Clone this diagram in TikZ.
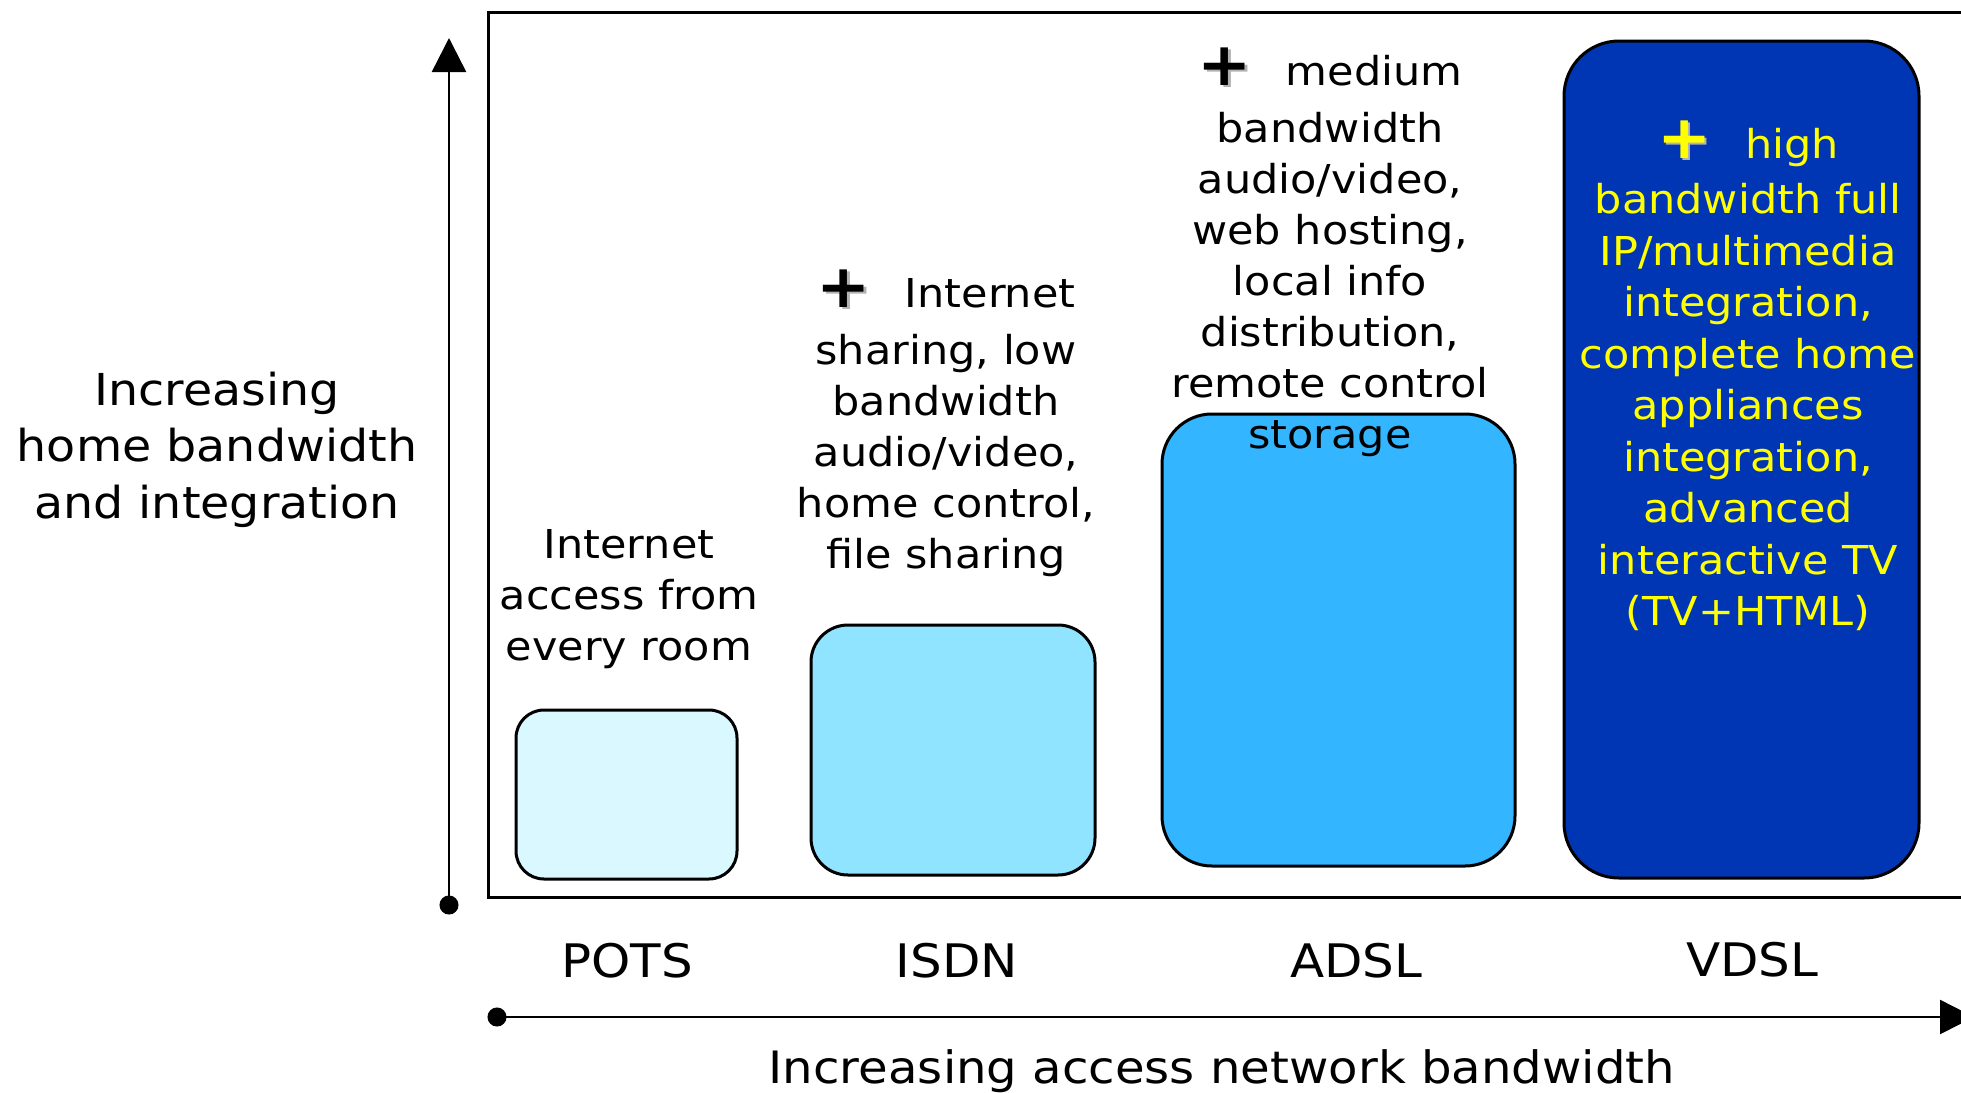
\documentclass[tikz,border=0pt]{standalone}
\usepackage{fontspec}
\setmainfont[FakeStretch=1.08]{DejaVu Sans}
\usetikzlibrary{arrows.meta}
\definecolor{potsfill}{RGB}{217,248,255}
\definecolor{isdnfill}{RGB}{144,228,255}
\definecolor{adslfill}{RGB}{51,181,255}
\definecolor{vdslfill}{RGB}{0,54,179}
\definecolor{txtyellow}{RGB}{255,255,0}
\newcommand{\bigplus}[1]{\rlap{\hspace{2.5pt}\raisebox{-2.5pt}{\textcolor{black!30}{\fontsize{60}{60}\selectfont\bfseries +}}}\textcolor{#1}{\fontsize{60}{60}\selectfont\bfseries +}}
\begin{document}
\begin{tikzpicture}[x=1pt,y=-1pt,
  bar/.style={draw=black, line width=3pt, rounded corners=#1, inner sep=0pt, outer sep=0pt},
  desc/.style={anchor=base, inner sep=0pt, font=\fontsize{39.8}{51}\selectfont},
  cat/.style={anchor=base, inner sep=0pt, font=\fontsize{46.2}{56}\selectfont},
  axisline/.style={line width=2.5pt},
  frameline/.style={line width=3pt}]
\useasboundingbox (0,0) rectangle (1961,1092);
\clip (0,0) rectangle (1961,1092);
% frame
\draw[frameline] (1995,12) -- (488,12) -- (488,897) -- (1995,897);
% bars
\node[bar=28pt, fill=potsfill, minimum width=221pt, minimum height=169pt] (pots) at (626.5,794.5) {};
\node[bar=37pt, fill=isdnfill, minimum width=284pt, minimum height=250pt] (isdn) at (953,750) {};
\node[bar=50pt, fill=adslfill, minimum width=353pt, minimum height=452pt] (adsl) at (1338.5,640) {};
\node[bar=55pt, fill=vdslfill, minimum width=355pt, minimum height=837pt] (vdsl) at (1741.5,459.5) {};
% descriptions
\node[desc] (potstxt) at (629,558) {\begin{tabular}[t]{@{}c@{}}Internet\\access from\\every room\end{tabular}};
\node[desc] (isdntxt) at (946,307) {\begin{tabular}[t]{@{}c@{}}\bigplus{black}\hspace{34pt}Internet\\[6pt]sharing, low\\bandwidth\\audio/video,\\home control,\\file sharing\end{tabular}};
\node[desc] (adsltxt) at (1330,85) {\begin{tabular}[t]{@{}c@{}}\bigplus{black}\hspace{34pt}medium\\[6pt]bandwidth\\audio/video,\\web hosting,\\local info\\distribution,\\remote control\\storage\end{tabular}};
\node[desc, text=txtyellow, font=\fontsize{39.8}{51.5}\selectfont] (vdsltxt) at (1748,158) {\begin{tabular}[t]{@{}c@{}}\bigplus{txtyellow}\hspace{34pt}high\\[4pt]bandwidth full\\IP/multimedia\\integration,\\complete home\\appliances\\integration,\\advanced\\interactive TV\\(TV+HTML)\end{tabular}};
% category labels
\node[cat] (potslab) at (627,977) {POTS};
\node[cat] (isdnlab) at (957,977) {ISDN};
\node[cat] (adsllab) at (1356,977) {ADSL};
\node[cat] (vdsllab) at (1752,976) {VDSL};
% axis labels
\node[anchor=base, inner sep=0pt, font=\fontsize{44}{56.5}\selectfont] (ylab) at (217,405) {\begin{tabular}[t]{@{}c@{}}Increasing\\home bandwidth\\and integration\end{tabular}};
\node[anchor=base, inner sep=0pt, font=\fontsize{44.6}{54}\selectfont] (xlab) at (1222,1083) {Increasing access network bandwidth};
% axes
\coordinate (vbot) at (449,914.5);
\coordinate (vtop) at (449,38);
\coordinate (hleft) at (487.5,1017);
\coordinate (hright) at (1974,1017);
\draw[axisline, {Circle[length=19pt,width=19pt]}-{Triangle[length=34pt,width=34pt]}] (vbot) -- (vtop);
\draw[axisline, {Circle[length=19pt,width=19pt]}-{Triangle[length=34pt,width=34pt]}] (hleft) -- (hright);
\end{tikzpicture}
\end{document}
